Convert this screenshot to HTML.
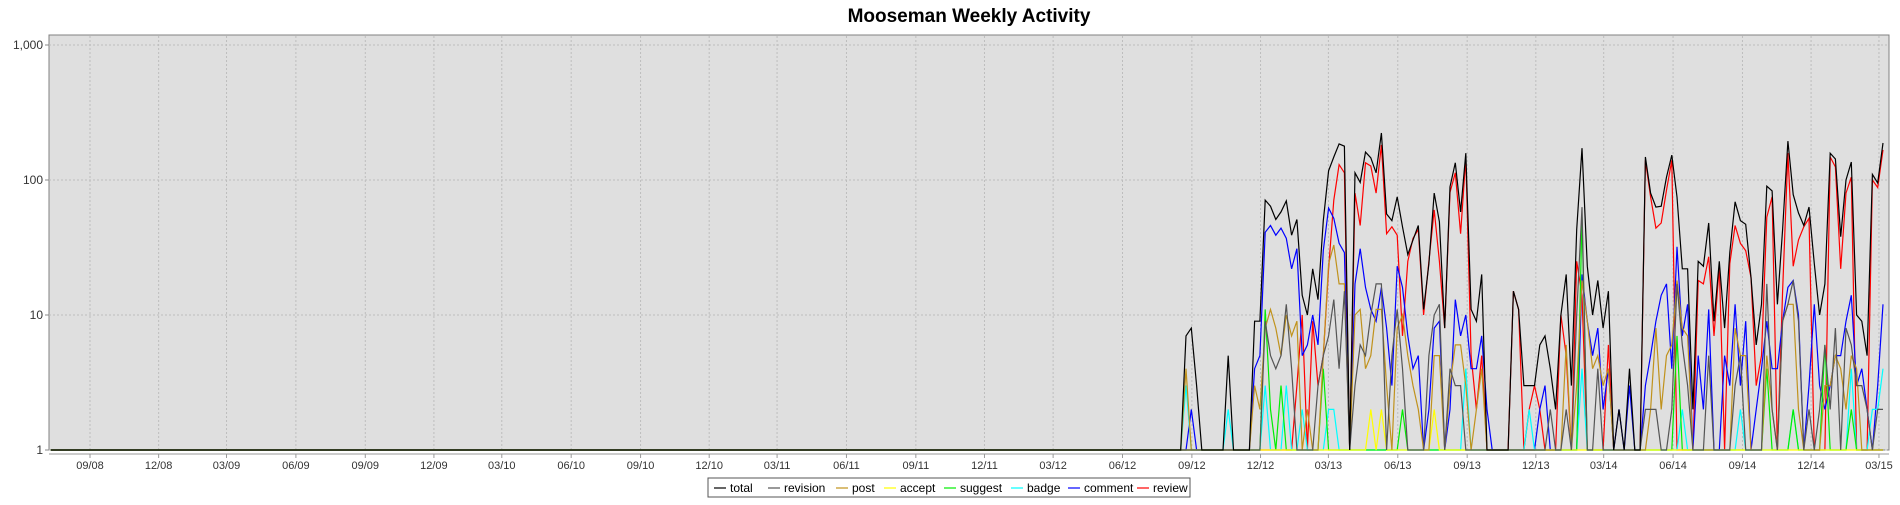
<!DOCTYPE html>
<html><head><meta charset="utf-8"><title>Mooseman Weekly Activity</title>
<style>
html,body{margin:0;padding:0;background:#fff;}
body{width:1900px;height:500px;overflow:hidden;font-family:"Liberation Sans",sans-serif;}
svg text{font-family:"Liberation Sans",sans-serif;}
</style></head>
<body>
<svg id="chart" width="1900" height="500" xmlns="http://www.w3.org/2000/svg">
  <text x="969" y="22" text-anchor="middle" font-size="19" font-weight="bold" fill="#000">Mooseman Weekly Activity</text>
  <rect x="49" y="35" width="1840" height="415" fill="#dfdfdf" stroke="#808080" stroke-width="1"/>
  <g id="grid"></g>
  <g id="yaxis"></g>
  <g id="xaxis"></g>
  <g id="series"></g>
  <g id="legend"></g>
</svg>
<script>
// ---- data ----
const leadingWeeks = 214; // weeks with value 1 (axis floor) before the first array entry
const yTicks = [1, 10, 100, 1000];
const yTickLabels = ["1", "10", "100", "1,000"];
const xTickLabels = ["09/08","12/08","03/09","06/09","09/09","12/09","03/10","06/10","09/10","12/10","03/11","06/11","09/11","12/11","03/12","06/12","09/12","12/12","03/13","06/13","09/13","12/13","03/14","06/14","09/14","12/14","03/15"];
const seriesNames = ["total","revision","post","accept","suggest","badge","comment","review"];
const total = [1,7,8,3,1,1,1,1,1,5, 1,1,1,1,9,9,71,64,51,58, 70,39,51,14,10,22,13,50,117,148, 185,178,1,113,96,161,146,113,223,56, 50,75,45,28,36,46,11,24,80,49, 8,89,134,58,158,11,9,20,1,1, 1,1,1,15,11,3,3,3,6,7, 4,2,10,20,3,43,172,23,10,18, 8,15,1,2,1,4,1,1,148,80, 63,64,105,153,75,22,22,2,25,23, 48,9,25,8,29,69,50,47,19,6, 12,90,83,12,43,194,78,57,46,63, 24,10,17,158,143,38,100,136,10,9, 5,110,95,188];
const review = [1,1,1,1,1,1,1,1,1,1, 1,1,1,1,1,1,1,1,1,1, 1,1,3,10,1,9,3,5,22,71, 130,113,1,80,46,134,127,80,182,40, 45,39,7,25,37,43,10,25,60,25, 8,81,113,40,146,5,2,5,1,1, 1,1,1,15,11,1,2,3,2,1, 1,1,10,5,1,25,14,1,1,1, 1,6,1,1,1,1,1,1,140,75, 44,48,84,140,1,1,1,1,18,17, 27,7,23,1,24,46,34,30,19,3, 5,53,75,1,15,158,23,36,45,52, 1,1,1,148,125,22,80,105,1,1, 1,100,88,167];
const comment = [1,1,2,1,1,1,1,1,1,1, 1,1,1,1,4,5,41,46,39,44, 37,22,31,5,6,10,6,30,62,52, 34,29,1,17,31,16,11,9,16,8, 3,23,16,7,4,5,1,2,8,9, 1,2,13,7,10,4,4,7,2,1, 1,1,1,1,1,1,1,1,2,3, 1,1,1,1,1,1,20,9,5,8, 2,4,1,2,1,3,1,1,3,5, 9,14,17,4,32,7,12,1,5,2, 11,1,1,5,3,12,3,9,1,2, 4,9,4,4,9,16,18,10,1,3, 12,3,2,3,5,5,9,14,3,4, 2,1,3,12];
const revision = [1,1,1,1,1,1,1,1,1,1, 1,1,1,1,1,1,9,5,4,5, 12,4,1,1,1,1,3,5,7,13, 4,15,1,3,6,5,10,17,17,1, 5,11,4,1,1,1,1,5,10,12, 1,4,3,3,1,1,1,1,1,1, 1,1,1,1,1,1,1,1,1,1, 2,1,1,2,1,10,63,1,1,4, 1,1,1,1,1,1,1,1,2,2, 2,1,1,2,17,6,3,1,1,1, 5,1,1,1,1,3,5,1,1,1, 1,17,2,1,9,12,18,9,1,2, 1,2,6,2,8,1,8,6,3,3, 2,1,2,2];
const post = [1,4,1,1,1,1,1,1,1,1, 1,1,1,1,3,2,8,11,8,5, 10,7,9,1,2,1,1,5,24,33, 17,17,1,10,11,4,5,11,11,3, 1,8,10,5,3,2,1,1,5,5, 1,3,6,6,3,1,2,4,1,1, 1,1,1,1,1,1,1,1,1,1, 1,1,1,6,1,3,18,9,4,5, 3,4,1,1,1,1,1,1,1,2, 8,2,5,6,18,8,7,1,1,1, 1,1,1,1,1,8,5,5,1,1, 1,5,2,1,9,12,12,2,1,1, 1,1,3,3,5,4,2,5,4,1, 1,1,1,1];
const accept = [1,1,1,1,1,1,1,1,1,1, 1,1,1,1,1,1,1,1,1,1, 1,1,1,1,1,1,1,1,1,1, 1,1,1,1,1,1,2,1,2,1, 1,1,1,1,1,1,1,1,2,1, 1,1,1,1,1,1,1,1,1,1, 1,1,1,1,1,1,1,1,1,1, 1,1,1,1,1,1,1,1,1,1, 1,1,1,1,1,1,1,1,1,1, 1,1,1,1,1,1,1,1,1,1, 1,1,1,1,1,1,1,1,1,1, 1,1,1,1,1,1,1,1,1,1, 1,1,1,1,1,1,1,1,1,1, 1,1,1,1];
const suggest = [1,1,1,1,1,1,1,1,1,1, 1,1,1,1,1,1,11,2,1,3, 1,1,1,1,1,1,1,4,1,1, 1,1,1,1,1,1,1,1,1,1, 1,1,2,1,1,1,1,1,1,1, 1,1,1,1,1,1,1,1,1,1, 1,1,1,1,1,1,1,1,1,1, 1,1,1,1,1,1,53,1,1,1, 1,1,1,1,1,1,1,1,1,1, 1,1,1,1,7,1,1,1,1,1, 1,1,1,1,1,1,1,1,1,1, 1,4,1,1,1,1,2,1,1,1, 1,1,6,1,1,1,1,2,1,1, 1,1,1,1];
const badge = [1,3,1,1,1,1,1,1,1,2, 1,1,1,1,1,1,3,1,1,1, 3,1,1,2,1,1,1,1,2,2, 1,1,1,1,1,1,1,1,1,1, 1,1,1,1,1,1,1,1,1,1, 1,1,1,1,4,1,1,1,1,1, 1,1,1,1,1,1,2,1,1,1, 1,1,1,1,1,1,4,1,1,1, 1,1,1,1,1,1,1,1,1,1, 1,1,1,1,1,2,1,1,1,1, 1,1,1,1,1,1,2,1,1,1, 1,1,1,1,1,1,2,1,1,1, 1,1,1,1,1,1,1,4,1,1, 1,2,2,4];

// ---- layout ----
const NS = "http://www.w3.org/2000/svg";
const plotL = 49, plotR = 1889, yTop = 45, yBot = 450;
const weekX0 = 50.8, weekW = 5.28;
const firstTickX = 90, tickPxPerDay = 0.7542;
function xWeek(i){ return weekX0 + i*weekW; }
function yVal(v){ return yBot - (Math.log10(v)/3)*(yBot-yTop); }
function tickDate(k){ const y = 2008 + Math.floor((8 + 3*k)/12); const m = (8 + 3*k)%12; return Date.UTC(y, m, 1); }
const base = Date.UTC(2008, 8, 1);
function xDate(t){ return firstTickX + ((t-base)/86400000)*tickPxPerDay; }
function mk(tag, attrs, parent){ const e = document.createElementNS(NS, tag); for (const k in attrs) e.setAttribute(k, attrs[k]); parent.appendChild(e); return e; }

const grid = document.getElementById('grid');
const yaxis = document.getElementById('yaxis');
const xaxis = document.getElementById('xaxis');
yTicks.forEach((v, i) => {
  const y = yVal(v);
  const g = mk('line', {x1:plotL, x2:plotR, y1:y, y2:y, stroke:'#bdbdbd', 'stroke-width':1, 'stroke-dasharray':'2,2'}, grid);
  
  
  const t = mk('line', {x1:plotL-4, x2:plotL, y1:y, y2:y, stroke:'#888', 'stroke-width':1}, yaxis);
  
  
  const lb = mk('text', {x:plotL-6, y:y+4, 'text-anchor':'end', 'font-size':12, fill:'#333'}, yaxis);
  lb.textContent = yTickLabels[i];
  
  
});
const xl = mk('line', {x1:plotL, x2:plotR, y1:454, y2:454, stroke:'#999', 'stroke-width':1}, xaxis);


xTickLabels.forEach((lab, k) => {
  const x = xDate(tickDate(k));
  const g = mk('line', {x1:x, x2:x, y1:36, y2:450, stroke:'#bdbdbd', 'stroke-width':1, 'stroke-dasharray':'2,2'}, grid);
  
  
  const t = mk('line', {x1:x, x2:x, y1:454, y2:458, stroke:'#999', 'stroke-width':1}, xaxis);
  
  
  const lb = mk('text', {x:x, y:469, 'text-anchor':'middle', 'font-size':11, fill:'#333'}, xaxis);
  lb.textContent = lab;
  
  
});

const seriesData = [total, revision, post, accept, suggest, badge, comment, review];
const colors = ['#000000','#555555','#c0921c','#ffff00','#00ee00','#00ffff','#0000ff','#ff0000'];
const sg = document.getElementById('series');
for (let s = seriesData.length-1; s >= 0; s--) {
  const vals = seriesData[s];
  let d = 'M' + xWeek(0).toFixed(1) + ',' + yVal(1).toFixed(1) + ' L' + xWeek(leadingWeeks-1).toFixed(1) + ',' + yVal(1).toFixed(1);
  vals.forEach((v, i) => { d += ' L' + xWeek(leadingWeeks+i).toFixed(1) + ',' + yVal(v).toFixed(1); });
  const p = mk('path', {d:d, fill:'none', stroke:colors[s], 'stroke-width':1.2, 'stroke-linejoin':'miter'}, sg);
  
  
}

// legend
const lg = document.getElementById('legend');
const box = mk('rect', {x:708, y:478, width:482, height:19, fill:'#fff', stroke:'#555', 'stroke-width':1}, lg);


const legendW = [54, 68, 48, 60, 67, 57, 69, 56];
let lx = 714;
seriesNames.forEach((nm, i) => {
  const ln = mk('line', {x1:lx, x2:lx+12, y1:488, y2:488, stroke:colors[i], 'stroke-width':1.2}, lg);
  
  
  const t = mk('text', {x:lx+16, y:492, 'font-size':12, fill:'#000'}, lg);
  t.textContent = nm;
  
  
  lx += legendW[i];
});
</script>
</body></html>
